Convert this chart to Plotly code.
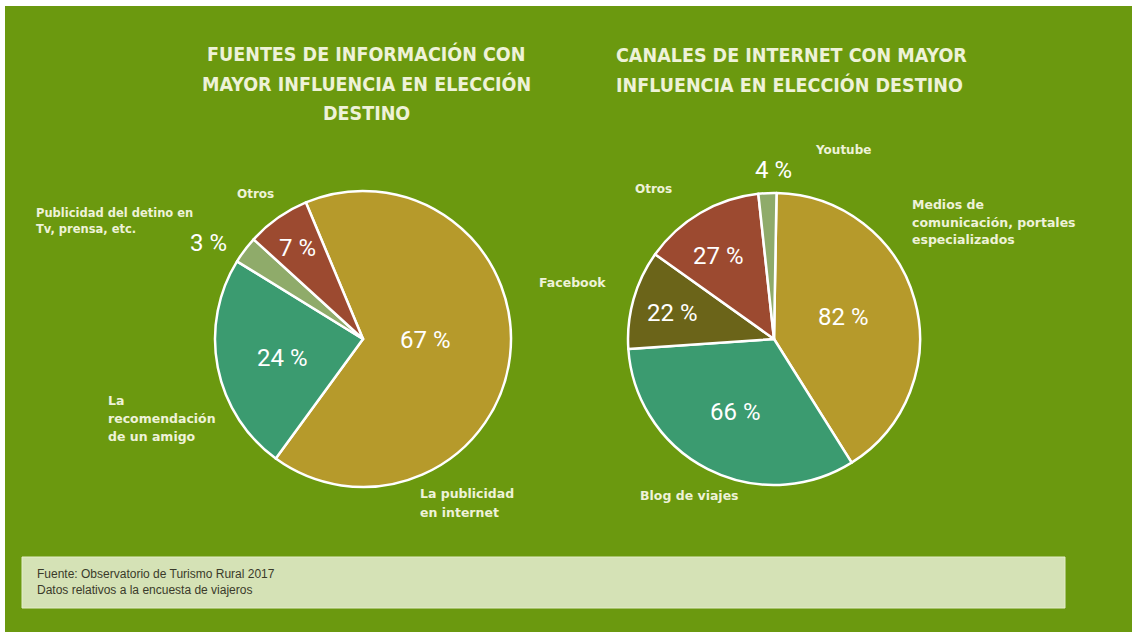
import plotly.graph_objects as go

W, H = 1132, 632

# Left chart: information sources
fuentes_labels = ["La publicidad en internet", "La recomendación de un amigo",
                  "Publicidad del detino en Tv, prensa, etc.", "Otros"]
fuentes_values = [67, 24, 3, 7]
fuentes_colors = ["#b69a2b", "#3b9b70", "#8fab6a", "#9c4a30"]

# Right chart: internet channels
canales_labels = ["Medios de comunicación, portales especializados", "Blog de viajes",
                  "Facebook", "Otros", "Youtube"]
canales_values = [82, 66, 22, 27, 4]
canales_colors = ["#b69a2b", "#3b9b70", "#6b6419", "#9c4a30", "#8fab6a"]

BG = "#6b990f"
CREAM = "#eef2d8"
TITLE_FONT = "DejaVu Sans Condensed, DejaVu Sans, sans-serif"
PCT_FONT = "Roboto, sans-serif"
LABEL_FONT = "DejaVu Sans, Verdana, sans-serif"
NOTE_FONT = "Liberation Sans, Arial, sans-serif"


def px(x):
    return x / W


def py(y):
    return 1 - y / H


fig = go.Figure()

fig.add_trace(go.Pie(
    labels=fuentes_labels, values=fuentes_values, sort=False,
    direction="clockwise", rotation=-22.7, textinfo="none", hoverinfo="label+value",
    marker=dict(colors=fuentes_colors, line=dict(color="white", width=2.5)),
    domain=dict(x=[px(215), px(511)], y=[py(487), py(191)]),
    showlegend=False,
))

fig.add_trace(go.Pie(
    labels=canales_labels, values=canales_values, sort=False,
    direction="clockwise", rotation=1, textinfo="none", hoverinfo="label+value",
    marker=dict(colors=canales_colors, line=dict(color="white", width=2.5)),
    domain=dict(x=[px(628), px(920)], y=[py(485), py(193)]),
    showlegend=False,
))

annotations = []


def add_text(text, x, y, size, family, color=CREAM, xanchor="left", align="left"):
    annotations.append(dict(
        text=text, x=px(x), y=py(y), xref="paper", yref="paper",
        xanchor=xanchor, yanchor="middle", align=align, showarrow=False,
        font=dict(size=size, family=family, color=color),
    ))


# Titles
for i, line in enumerate(["FUENTES DE INFORMACIÓN CON", "MAYOR INFLUENCIA EN ELECCIÓN", "DESTINO"]):
    add_text(f"<b>{line}</b>", 366, 54 + 30 * i, 19.5, TITLE_FONT, xanchor="center", align="center")
for i, line in enumerate(["CANALES DE INTERNET CON MAYOR", "INFLUENCIA EN ELECCIÓN DESTINO"]):
    add_text(f"<b>{line}</b>", 614, 55 + 30 * i, 19.5, TITLE_FONT)

# Percentages inside / beside slices
pct_pos_1 = [(425, 340), (282, 358), (208, 243), (297, 248)]
for v, (x, y) in zip(fuentes_values, pct_pos_1):
    add_text(f"{v} %", x, y, 24, PCT_FONT, color="white", xanchor="center", align="center")
pct_pos_2 = [(843, 317), (735, 412), (672, 313), (718, 256), (773, 170)]
for v, (x, y) in zip(canales_values, pct_pos_2):
    add_text(f"{v} %", x, y, 24, PCT_FONT, color="white", xanchor="center", align="center")


# Category labels
def add_label(lines, x, y_first, spacing=17, size=12.5):
    for i, line in enumerate(lines):
        add_text(f"<b>{line}</b>", x, y_first + spacing * i, size, LABEL_FONT)


add_label(["Otros"], 235, 194, size=12)
add_label(["Publicidad del detino en", "Tv, prensa, etc."], 34, 213, 16, size=11.5)
add_label(["La", "recomendación", "de un amigo"], 106, 400, 18)
add_label(["La publicidad", "en internet"], 418, 494, 18)
add_label(["Youtube"], 813, 150, size=12)
add_label(["Otros"], 633, 189, size=12)
add_label(["Medios de", "comunicación, portales", "especializados"], 910, 205, 17)
add_label(["Facebook"], 537, 283)
add_label(["Blog de viajes"], 638, 495)

# Source note
add_text("Fuente: Observatorio de Turismo Rural 2017", 35, 574, 12, NOTE_FONT, color="#3a3a2a")
add_text("Datos relativos a la encuesta de viajeros", 35, 590, 12, NOTE_FONT, color="#3a3a2a")

shapes = [
    dict(type="rect", xref="paper", yref="paper", x0=px(5), x1=1, y0=0, y1=py(6),
         fillcolor=BG, line=dict(width=0), layer="below"),
    dict(type="rect", xref="paper", yref="paper", x0=px(22), x1=px(1065), y0=py(608), y1=py(557),
         fillcolor="#d5e2b6", line=dict(color="#e4edc9", width=1), layer="below"),
]

fig.update_layout(
    width=W, height=H, margin=dict(l=0, r=0, t=0, b=0),
    paper_bgcolor="white", plot_bgcolor="white",
    annotations=annotations, shapes=shapes,
)

fig.write_html("out.html")
